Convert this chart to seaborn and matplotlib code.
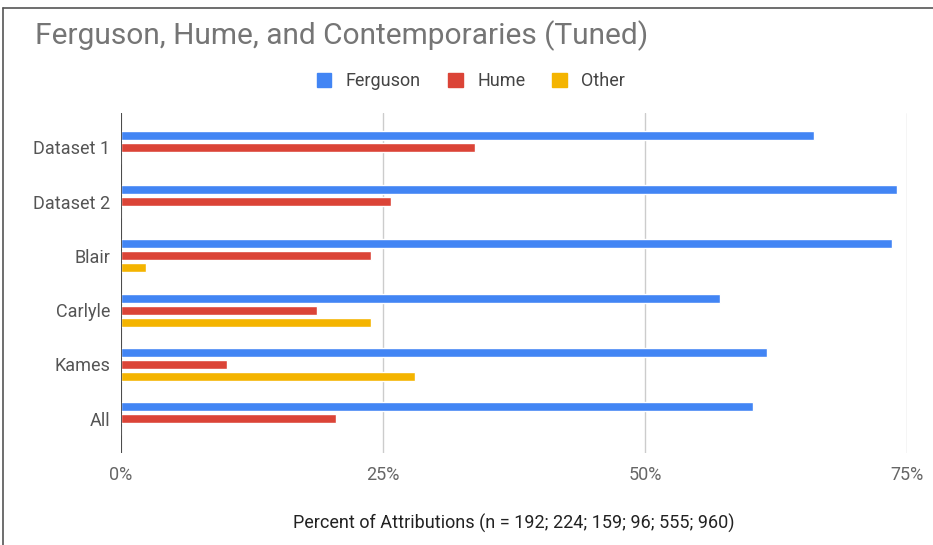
import matplotlib
matplotlib.use("Agg")
import matplotlib.pyplot as plt
import matplotlib.lines as mlines
import matplotlib.patches as mpatches
import pandas as pd
import seaborn as sns

# data (percent of attributions)
groups = ['Dataset 1', 'Dataset 2', 'Blair', 'Carlyle', 'Kames', 'All']
series = ['Ferguson', 'Hume', 'Other']
ferguson = [66.1, 74.0, 73.6, 57.2, 61.6, 60.3]
hume = [33.8, 25.8, 23.9, 18.7, 10.1, 20.5]
other = [0.0, 0.0, 2.4, 23.9, 28.1, 0.0]
colors = ['#4285F4', '#DB4437', '#F4B400']

rows = []
for name, vals in zip(series, [ferguson, hume, other]):
    for g, v in zip(groups, vals):
        rows.append({'group': g, 'series': name, 'value': v})
df = pd.DataFrame(rows)

sns.set_style('white')
plt.rcParams['font.family'] = ['Roboto', 'DejaVu Sans']

fig = plt.figure(figsize=(9.33, 5.45), dpi=100)
ax = fig.add_axes([121 / 933, 1 - 453 / 545, (907 - 121) / 933, (453 - 113) / 545])

sns.barplot(data=df, y='group', x='value', hue='series', order=groups,
            hue_order=series, palette=colors, orient='h', width=0.667,
            gap=0.25, saturation=1, legend=False, ax=ax)

ax.set_xlim(0, 75)
ax.set_ylim(5.63, -0.63)
ax.set_xticks([0, 25, 50, 75])
ax.set_xticklabels(['0%', '25%', '50%', '75%'])
ax.grid(axis='x', color='#cccccc', linewidth=1)
ax.set_axisbelow(True)
ax.axvline(0, color='#333333', linewidth=1.2, zorder=5)
for s in ax.spines.values():
    s.set_visible(False)
ax.tick_params(axis='x', length=0, pad=9, labelsize=13, labelcolor='#666666')
ax.tick_params(axis='y', length=0, pad=8, labelsize=13, labelcolor='#555555')
ax.set_ylabel('')
ax.set_xlabel('Percent of Attributions (n = 192; 224; 159; 96; 555; 960)',
              fontsize=13, color='#222222', va='center')
ax.xaxis.set_label_coords((514 - 121) / (907 - 121), (22 - 92) / 340)

fig.text(35 / 933, 1 - 36 / 545, 'Ferguson, Hume, and Contemporaries (Tuned)',
         fontsize=21.5, color='#757575', va='center', ha='left')

handles = [mpatches.Patch(color=c, label=n) for c, n in zip(colors, series)]
leg = fig.legend(handles=handles, loc='center', bbox_to_anchor=(471 / 933, 1 - 81 / 545),
                 ncol=3, frameon=False, fontsize=13, handlelength=0.8, handleheight=0.8,
                 columnspacing=1.5, handletextpad=0.8)
for t in leg.get_texts():
    t.set_color('#444444')

# frame lines at the top and left edge of the picture
fig.add_artist(mlines.Line2D([3 / 933, 3 / 933], [0, 1 - 8 / 545], color='#555555', linewidth=1.2))
fig.add_artist(mlines.Line2D([3 / 933, 1], [1 - 8 / 545, 1 - 8 / 545], color='#555555', linewidth=1.2))

plt.savefig('out.png', dpi=100)
